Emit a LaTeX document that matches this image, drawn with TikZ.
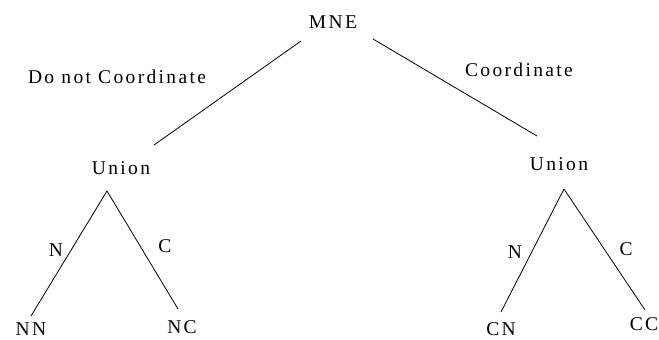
\documentclass[tikz,border=0pt]{standalone}
\usepackage{fontspec}
\setmainfont{Liberation Serif}[LetterSpace=12]
\begin{document}
\begin{tikzpicture}[x=1pt,y=-1pt,
  lbl/.style={inner sep=0pt,font=\fontsize{19.5}{22}\selectfont},
  edge/.style={draw=black,line width=0.8pt}]
\useasboundingbox (0,0) rectangle (659,340);
% nodes
\node[lbl] (mne) at (333,22) {MNE};
\node[lbl] (dnc) at (117,77) {Do not Coordinate};
\node[lbl] (co) at (519,70) {Coordinate};
\node[lbl] (uL) at (121,168) {Union};
\node[lbl] (uR) at (559,164) {Union};
\node[lbl] (nL) at (56,250) {N};
\node[lbl] (cL) at (165,246) {C};
\node[lbl] (nR) at (515,252) {N};
\node[lbl] (cR) at (626,249) {C};
\node[lbl] (nn) at (31,329) {NN};
\node[lbl] (nc) at (182,327) {NC};
\node[lbl] (cn) at (501,329) {CN};
\node[lbl] (cc) at (644,324) {CC};
% line end points
\coordinate (mneL) at (301,41);
\coordinate (mneR) at (373,39);
\coordinate (uLtop) at (154,145);
\coordinate (uRtop) at (537,136);
\coordinate (uLapex) at (107,191);
\coordinate (uRapex) at (564,189);
\coordinate (nnTop) at (31,316);
\coordinate (ncTop) at (178,309);
\coordinate (cnTop) at (501,312);
\coordinate (ccTop) at (645,310);
% connectors
\draw[edge] (mneL) -- (uLtop);
\draw[edge] (mneR) -- (uRtop);
\draw[edge] (uLapex) -- (nnTop);
\draw[edge] (uLapex) -- (ncTop);
\draw[edge] (uRapex) -- (cnTop);
\draw[edge] (uRapex) -- (ccTop);
\end{tikzpicture}
\end{document}
